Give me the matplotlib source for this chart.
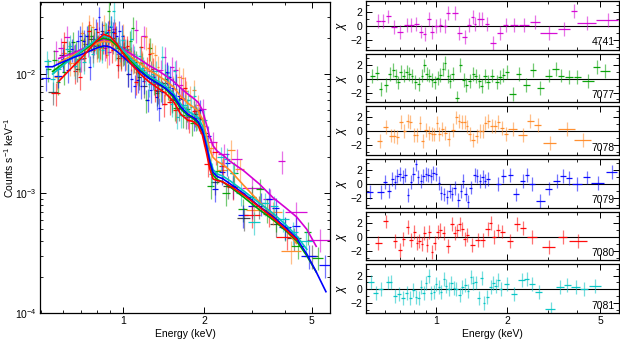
import numpy as np
import matplotlib
matplotlib.use("Agg")
import matplotlib.pyplot as plt
from matplotlib.ticker import FixedLocator, FixedFormatter, NullFormatter

plt.rcParams["font.family"] = ["Liberation Sans", "DejaVu Sans"]
plt.rcParams["mathtext.fontset"] = "custom"
plt.rcParams["mathtext.rm"] = "Liberation Sans"
plt.rcParams["mathtext.it"] = "Liberation Sans:italic"
plt.rcParams["font.size"] = 7.5

# fluxes below are in units of 1e-3 counts s^-1 keV^-1
frac_err = 0.22

# --- model curves (shared energy grid) ---
model_e = [0.52, 0.55, 0.58, 0.62, 0.66, 0.70, 0.75, 0.80, 0.85, 0.90, 0.95, 1.0, 1.08, 1.16, 1.25,
           1.34, 1.44, 1.54, 1.64, 1.74, 1.82, 1.9, 1.97, 2.04, 2.1, 2.16, 2.24, 2.34, 2.5, 2.8,
           3.2, 3.6, 4.0, 4.4, 4.8, 5.2, 5.65]
nan = np.nan
model_4741 = [nan, nan, 13.5, 14.3, 15.0, 16.0, 17.2, 18.5, 19.5, 19.0, 17.8, 16.3, 14.6, 13.2, 11.8,
              10.8, 9.7, 8.7, 7.6, 6.8, 6.3, 5.8, 5.0, 3.8, 2.95, 2.5, 2.25, 2.1, 1.85, 1.55,
              1.2, 0.92, 0.76, 0.635, 0.5, 0.36, nan]
model_7077 = [nan, 10.5, 11.5, 12.8, 14.0, 15.3, 17.0, 18.8, 20.0, 19.3, 17.3, 15.2, 12.6, 10.8, 9.3,
              8.4, 7.5, 6.4, 5.1, 4.5, 4.25, 3.9, 3.3, 2.4, 1.75, 1.42, 1.3, 1.25, 1.13, 0.93,
              0.73, 0.6, 0.49, 0.4, 0.3, 0.22, nan]
model_7078 = [nan, nan, 12.5, 13.5, 14.5, 15.5, 16.8, 18.0, 18.8, 18.5, 17.2, 15.8, 13.8, 12.2, 10.8,
              9.8, 8.8, 7.8, 6.5, 5.7, 5.3, 4.9, 4.2, 3.1, 2.3, 2.0, 1.85, 1.75, 1.55, 1.17,
              0.85, 0.65, 0.5, 0.38, nan, nan, nan]
model_7079 = [11.5, 11.5, 12.2, 13.0, 13.8, 14.5, 15.5, 16.5, 17.2, 16.8, 15.5, 14.0, 12.0, 10.5, 9.2,
              8.4, 7.6, 6.6, 5.3, 4.6, 4.35, 4.0, 3.4, 2.5, 1.85, 1.5, 1.38, 1.33, 1.2, 1.0,
              0.78, 0.64, 0.52, 0.42, 0.31, 0.22, 0.15]
model_7080 = [nan, nan, 8.7, 10.2, 11.8, 13.5, 16.0, 19.0, 21.5, 20.5, 18.0, 15.0, 12.0, 10.0, 8.6,
              7.7, 6.9, 5.9, 4.6, 4.1, 4.0, 3.7, 3.1, 2.2, 1.6, 1.32, 1.28, 1.25, 1.15, 0.97,
              0.77, 0.62, 0.5, 0.41, nan, nan, nan]
model_7081 = [nan, 10.0, 11.0, 12.5, 14.0, 15.5, 17.5, 19.5, 20.8, 20.2, 18.2, 16.0, 13.2, 11.2, 9.7,
              8.8, 7.9, 6.9, 5.6, 4.9, 4.6, 4.3, 3.7, 2.7, 1.95, 1.58, 1.45, 1.4, 1.27, 1.05,
              0.83, 0.68, 0.55, 0.44, 0.34, nan, nan]

# --- spectra: energy, half bin width, flux, residual chi ---
e_4741 = [0.564, 0.591, 0.623, 0.661, 0.70, 0.745, 0.78, 0.82, 0.86, 0.89, 0.927, 0.96, 1.0, 1.04,
          1.09, 1.12, 1.2, 1.25, 1.32, 1.38, 1.43, 1.46, 1.52, 1.57, 1.64, 1.75, 1.87, 1.98, 2.15,
          2.37, 2.64, 3.02, 3.5, 3.87, 4.39, 5.39]
de_4741 = [0.013, 0.014, 0.016, 0.019, 0.02, 0.02, 0.018, 0.02, 0.018, 0.016, 0.018, 0.018, 0.02, 0.02,
           0.02, 0.02, 0.03, 0.03, 0.03, 0.025, 0.02, 0.02, 0.025, 0.03, 0.035, 0.05, 0.05, 0.05, 0.08,
           0.11, 0.12, 0.25, 0.2, 0.12, 0.42, 0.57]
f_4741 = [15.5, 16.5, 20.5, 14.4, 13.4, 17.7, 18.6, 20.2, 16.5, 15.2, 23.6, 14.6, 16.5, 16.1, 14.6,
          23.4, 20.7, 9.7, 8.2, 10.8, 13.9, 10.2, 11.4, 10.8, 8.1, 4.4, 4.9, 5.1, 2.67, 2.14, 1.93,
          1.1, 0.89, 1.85, 0.70, 0.41]
chi_4741 = [0.68, 0.78, 1.37, -0.2, -0.9, 0.15, 0.15, 0.3, -0.8, -1.15, 1.0, -0.9, 0.05, 0.2, 0.05,
            1.85, 1.85, -1.0, -1.55, 0.2, 1.35, 0.3, 1.0, 1.0, 0.3, -2.4, -1.05, 0.15, 0.2, 0.2, 0.55,
            -1.0, -0.4, 2.15, 0.45, 0.9]

e_7077 = [0.531, 0.558, 0.577, 0.607, 0.631, 0.653, 0.670, 0.688, 0.704, 0.723, 0.745, 0.765, 0.785,
          0.812, 0.839, 0.868, 0.888, 0.908, 0.933, 0.958, 0.984, 1.013, 1.040, 1.065, 1.090, 1.119,
          1.145, 1.176, 1.224, 1.265, 1.307, 1.342, 1.387, 1.434, 1.473, 1.522, 1.557, 1.610, 1.665,
          1.732, 1.808, 1.869, 1.932, 1.997, 2.113, 2.242, 2.419, 2.585, 2.780, 3.019, 3.226, 3.412,
          3.683, 4.000, 4.446, 4.831, 5.265]
de_7077 = [0.013, 0.012, 0.01, 0.012, 0.011, 0.01, 0.009, 0.009, 0.009, 0.01, 0.01, 0.01, 0.01, 0.013,
           0.013, 0.012, 0.01, 0.011, 0.012, 0.012, 0.013, 0.014, 0.013, 0.013, 0.013, 0.014, 0.014,
           0.017, 0.02, 0.02, 0.02, 0.02, 0.022, 0.022, 0.02, 0.022, 0.02, 0.026, 0.03, 0.035, 0.035,
           0.03, 0.035, 0.04, 0.07, 0.06, 0.08, 0.08, 0.1, 0.1, 0.1, 0.1, 0.15, 0.15, 0.25, 0.15, 0.25]
f_7077 = [11.0, 13.0, 8.6, 10.4, 15.5, 18.5, 15.5, 13.3, 19.2, 17.9, 21.0, 20.7, 19.7, 17.4, 16.8,
          22.1, 33.7, 22.6, 20.2, 16.6, 14.2, 15.3, 15.8, 18.9, 24.5, 12.7, 10.2, 12.4, 6.0, 16.4,
          8.5, 6.9, 7.5, 9.0, 7.8, 6.2, 5.2, 6.1, 4.55, 5.1, 3.9, 4.3, 4.2, 3.7, 1.15, 1.54, 1.0,
          1.49, 0.74, 0.94, 1.08, 0.73, 0.61, 0.51, 0.36, 0.47, 0.29]
chi_7077 = [0.35, 0.8, -1.5, -0.9, 0.7, 1.2, 0.35, -0.55, 0.9, 0.45, 0.9, 0.7, 0.35, -0.45, -0.8, 0.45,
            1.9, 0.7, 0.45, -0.15, -0.55, 0.15, 0.55, 1.4, 2.25, 0.35, -0.4, 0.7, -2.8, 2.0, -0.15,
            -0.95, -0.3, 0.7, 0.35, -0.35, -1.0, 0.35, -0.45, 0.45, -0.45, 0.2, 0.55, 0.9, -2.15, 0.7,
            -0.9, 1.25, -1.3, 0.45, 1.4, 0.45, 0.2, 0.2, -0.35, 1.65, 1.05]

e_7078 = [0.572, 0.607, 0.637, 0.659, 0.681, 0.704, 0.728, 0.752, 0.773, 0.804, 0.825, 0.850, 0.873,
          0.903, 0.933, 0.958, 0.980, 1.003, 1.030, 1.058, 1.090, 1.126, 1.176, 1.216, 1.248, 1.282,
          1.320, 1.351, 1.387, 1.434, 1.483, 1.532, 1.573, 1.615, 1.665, 1.720, 1.778, 1.838, 1.900,
          1.984, 2.113, 2.333, 2.517, 2.707, 3.050, 3.597, 4.204]
de_7078 = [0.016, 0.015, 0.012, 0.011, 0.011, 0.012, 0.012, 0.011, 0.011, 0.012, 0.011, 0.012, 0.012,
           0.015, 0.013, 0.012, 0.011, 0.012, 0.014, 0.015, 0.016, 0.02, 0.025, 0.018, 0.016, 0.018,
           0.018, 0.016, 0.02, 0.025, 0.025, 0.022, 0.02, 0.022, 0.025, 0.028, 0.03, 0.03, 0.035,
           0.045, 0.09, 0.1, 0.08, 0.1, 0.2, 0.3, 0.35]
f_7078 = [9.5, 15.1, 12.3, 12.4, 12.5, 22.2, 16.2, 25.5, 24.7, 16.2, 16.4, 25.5, 14.4, 19.5, 16.6,
          15.6, 14.9, 21.3, 13.8, 15.5, 12.8, 10.4, 12.7, 20.4, 16.5, 14.9, 14.4, 11.5, 8.6, 7.0,
          7.3, 7.9, 7.5, 9.4, 9.2, 7.2, 6.5, 7.3, 5.5, 3.7, 2.4, 1.58, 2.3, 1.6, 0.73, 0.70, 0.33]
chi_7078 = [-1.35, 0.6, -0.6, -0.7, -0.85, 1.35, 0.0, 1.55, 1.35, -0.5, -0.55, 1.2, -1.35, 0.25, -0.3,
            -0.4, -0.45, 1.2, -0.4, 0.35, -0.3, -1.1, 0.25, 2.0, 1.55, 1.35, 1.35, 0.7, -0.4, -1.2,
            -0.7, 0.0, 0.0, 1.2, 1.45, 0.8, 0.7, 1.3, 0.5, -0.4, 0.35, -0.5, 1.55, 0.95, -1.65, 0.35,
            -1.3]

e_7079 = [0.518, 0.577, 0.603, 0.627, 0.648, 0.666, 0.681, 0.697, 0.716, 0.735, 0.755, 0.778, 0.796,
          0.817, 0.836, 0.859, 0.879, 0.903, 0.924, 0.948, 0.971, 0.997, 1.023, 1.047, 1.075, 1.108,
          1.138, 1.168, 1.196, 1.236, 1.269, 1.299, 1.334, 1.365, 1.402, 1.458, 1.492, 1.532, 1.573,
          1.610, 1.665, 1.838, 1.931, 2.064, 2.191, 2.333, 2.435, 2.561, 2.780, 3.019, 3.259, 3.481,
          3.681, 4.000, 4.387, 4.877, 5.607]
de_7079 = [0.02, 0.02, 0.01, 0.01, 0.009, 0.008, 0.008, 0.009, 0.009, 0.01, 0.01, 0.01, 0.01, 0.01,
           0.01, 0.011, 0.01, 0.011, 0.011, 0.012, 0.012, 0.012, 0.012, 0.012, 0.014, 0.015, 0.015,
           0.014, 0.015, 0.018, 0.015, 0.015, 0.017, 0.016, 0.02, 0.02, 0.018, 0.02, 0.02, 0.02, 0.03,
           0.04, 0.05, 0.05, 0.06, 0.06, 0.05, 0.07, 0.12, 0.1, 0.1, 0.1, 0.1, 0.2, 0.15, 0.3, 0.3]
f_7079 = [9.2, 9.7, 13.3, 10.7, 16.2, 14.7, 19.0, 20.8, 19.0, 20.8, 11.5, 17.4, 23.7, 30.0, 21.8,
          18.9, 22.6, 24.9, 22.5, 20.7, 23.0, 21.0, 13.7, 10.0, 9.1, 8.0, 8.9, 7.9, 8.7, 6.1, 7.3,
          9.4, 6.4, 5.2, 7.1, 10.3, 9.5, 7.6, 8.2, 6.5, 6.2, 4.3, 5.0, 3.0, 1.09, 1.5, 1.8, 1.16,
          0.66, 0.78, 0.83, 0.90, 0.75, 0.52, 0.53, 0.30, 0.25]
chi_7079 = [-1.15, -1.15, 0.25, -1.0, 0.75, 0.25, 1.15, 1.4, 1.0, 1.25, -1.6, 0.35, 1.4, 2.9, 1.0, 0.4,
            1.1, 1.5, 1.25, 1.1, 1.6, 1.5, 0.1, -1.25, -1.5, -1.9, -1.0, -1.4, -0.6, -2.25, -1.0, 0.4,
            -1.4, -2.65, -0.5, 1.25, 1.1, 0.5, 1.0, 0.4, 0.75, 0.0, 1.1, 1.25, -1.5, 0.5, 1.35, 0.0,
            -2.45, -0.65, 0.4, 1.1, 0.85, 0.0, 0.95, 0.1, 1.7]

e_7080 = [0.564, 0.607, 0.666, 0.697, 0.721, 0.752, 0.778, 0.804, 0.825, 0.845, 0.868, 0.888, 0.912,
          0.933, 0.958, 0.984, 1.013, 1.040, 1.072, 1.119, 1.164, 1.196, 1.228, 1.256, 1.290, 1.320,
          1.356, 1.424, 1.497, 1.573, 1.653, 1.703, 1.761, 1.838, 1.912, 2.064, 2.205, 2.341, 2.560,
          3.019, 3.469, 4.040]
de_7080 = [0.02, 0.015, 0.012, 0.012, 0.012, 0.013, 0.012, 0.011, 0.01, 0.01, 0.011, 0.01, 0.011,
           0.011, 0.012, 0.013, 0.014, 0.014, 0.017, 0.02, 0.02, 0.016, 0.015, 0.015, 0.016, 0.016,
           0.02, 0.03, 0.035, 0.035, 0.035, 0.025, 0.03, 0.035, 0.04, 0.06, 0.06, 0.07, 0.12, 0.2,
           0.15, 0.35]
f_7080 = [6.9, 18.6, 10.6, 9.4, 13.6, 22.9, 15.8, 22.4, 17.1, 18.8, 17.5, 23.4, 15.9, 22.2, 11.9,
          13.5, 16.9, 17.2, 13.7, 8.6, 16.9, 10.7, 11.3, 14.8, 11.1, 7.4, 8.1, 5.6, 5.85, 5.0, 6.3,
          7.7, 4.1, 4.9, 4.3, 1.77, 2.2, 1.7, 1.13, 0.66, 0.67, 0.43]
chi_7080 = [-0.85, 2.2, -0.6, -1.9, -0.35, 1.35, -0.5, 0.65, -0.85, -0.6, -1.0, 0.5, -1.15, 0.65, -2.2,
            -0.85, 0.65, 1.0, 0.5, -1.3, 1.85, 0.5, 0.9, 1.85, 1.1, -0.35, 0.3, -1.2, -0.5, -0.5, 1.1,
            1.95, 0.0, 0.9, 0.75, -0.6, 1.85, 1.2, 0.0, -1.45, 0.0, -0.6]

e_7081 = [0.526, 0.550, 0.577, 0.623, 0.638, 0.666, 0.693, 0.721, 0.747, 0.773, 0.796, 0.817, 0.839,
          0.859, 0.882, 0.903, 0.927, 0.948, 0.974, 0.997, 1.023, 1.047, 1.075, 1.101, 1.126, 1.157,
          1.184, 1.216, 1.256, 1.290, 1.329, 1.365, 1.402, 1.434, 1.473, 1.517, 1.557, 1.594, 1.648,
          1.703, 1.749, 1.790, 1.838, 1.881, 1.997, 2.147, 2.317, 2.435, 2.560, 2.734, 3.070, 3.368,
          3.622, 3.934, 4.272, 4.764]
de_7081 = [0.015, 0.012, 0.014, 0.012, 0.01, 0.012, 0.013, 0.013, 0.012, 0.012, 0.01, 0.01, 0.01, 0.01,
           0.011, 0.01, 0.012, 0.011, 0.012, 0.012, 0.012, 0.012, 0.013, 0.012, 0.013, 0.015, 0.013,
           0.016, 0.02, 0.018, 0.02, 0.018, 0.018, 0.016, 0.02, 0.022, 0.02, 0.02, 0.027, 0.025, 0.022,
           0.022, 0.024, 0.03, 0.05, 0.07, 0.08, 0.06, 0.07, 0.1, 0.15, 0.12, 0.12, 0.18, 0.18, 0.28]
f_7081 = [12.8, 9.0, 11.0, 16.2, 17.3, 11.6, 13.4, 12.7, 15.7, 14.6, 18.9, 16.2, 15.9, 22.3, 18.5,
          25.1, 33.8, 16.7, 16.1, 19.3, 16.2, 13.3, 19.5, 14.2, 12.0, 14.2, 11.3, 10.4, 8.2, 10.0,
          10.5, 8.2, 14.0, 10.0, 9.7, 5.6, 10.5, 4.4, 4.5, 5.5, 6.0, 5.3, 6.5, 4.35, 4.1, 1.46, 2.0,
          1.95, 1.48, 1.01, 0.57, 0.83, 0.78, 0.61, 0.47, 0.40]
chi_7081 = [1.1, -0.5, 0.0, 1.0, 1.1, -1.0, -0.6, -1.3, -0.5, -1.2, -0.1, -1.05, -1.3, 0.3, -0.5, 0.9,
            1.95, -0.5, -0.35, 0.75, 0.3, -0.35, 1.45, 0.5, 0.0, 0.9, 0.15, 0.0, -0.85, 0.3, 0.65,
            -0.2, 1.85, 0.9, 1.0, -1.3, 1.6, -1.95, -1.05, 0.3, 0.9, 0.5, 1.35, 0.0, 0.8, -0.6, 1.35,
            1.45, 0.8, -0.35, -2.8, 0.4, 0.65, 0.3, 0.0, 0.5]

# extra black spectrum (left panel only)
e_blk = [0.553, 0.60, 0.64, 0.68, 0.72, 0.76, 0.80, 0.84, 0.88, 0.92, 0.96, 1.0, 1.05, 1.1, 1.15,
         1.2, 1.27, 1.35, 1.43, 1.52, 1.62, 1.72, 1.85, 2.0, 2.2, 2.45, 2.8, 3.2, 3.7, 4.3, 5.0]
de_blk = [0.025, 0.02, 0.015, 0.015, 0.015, 0.015, 0.015, 0.015, 0.015, 0.015, 0.015, 0.02, 0.02, 0.02,
          0.02, 0.025, 0.03, 0.03, 0.03, 0.04, 0.04, 0.04, 0.05, 0.06, 0.08, 0.1, 0.15, 0.15, 0.2,
          0.25, 0.3]
f_blk = [7.0, 14.5, 15.0, 11.0, 16.5, 19.5, 17.0, 23.0, 21.0, 19.0, 13.5, 15.0, 10.0, 13.0, 9.5, 8.0,
         10.5, 7.2, 8.4, 6.0, 5.2, 4.4, 4.6, 3.2, 1.25, 1.15, 0.62, 0.78, 0.55, 0.42, 0.30]

obs_ids = ["4741", "7077", "7078", "7079", "7080", "7081"]
colors = {"4741": "#d400d4", "7077": "#00a000", "7078": "#ff8a26", "7079": "#0000ff",
          "7080": "#ff0000", "7081": "#00c4c4"}
spectra = {
    "4741": (e_4741, de_4741, f_4741, chi_4741, model_4741),
    "7077": (e_7077, de_7077, f_7077, chi_7077, model_7077),
    "7078": (e_7078, de_7078, f_7078, chi_7078, model_7078),
    "7079": (e_7079, de_7079, f_7079, chi_7079, model_7079),
    "7080": (e_7080, de_7080, f_7080, chi_7080, model_7080),
    "7081": (e_7081, de_7081, f_7081, chi_7081, model_7081),
}


def cross(ax, x, y, xerr, yerr, color, z=2, a=1.0):
    ax.errorbar(x, y, yerr=yerr, fmt="none", ecolor=color, elinewidth=0.9, alpha=0.55 * a, zorder=z)
    ax.errorbar(x, y, xerr=xerr, fmt="none", ecolor=color, elinewidth=0.9, alpha=0.95 * a, zorder=z)


def style_ticks(ax):
    ax.tick_params(which="both", direction="in", top=True, right=True, labelsize=7.5, pad=2.5)
    ax.tick_params(which="major", length=4, width=0.7)
    ax.tick_params(which="minor", length=2, width=0.6)
    for s in ax.spines.values():
        s.set_linewidth(0.9)


fig = plt.figure(figsize=(6.2, 3.41), dpi=100)

# ---- left: spectra ----
ax = fig.add_axes([40 / 620, 28.3 / 341, 290 / 620, 310.7 / 341])
ax.set_xscale("log")
ax.set_yscale("log")

f_b = np.array(f_blk) * 1e-3
cross(ax, e_blk, f_b, de_blk, frac_err * f_b, "black", z=1, a=0.75)
for oid in obs_ids:
    e, de, f, chi, mod = spectra[oid]
    fa = np.array(f) * 1e-3
    cross(ax, e, fa, de, frac_err * fa, colors[oid])
for oid in ["4741", "7078", "7077", "7081", "7079", "7080"]:
    mod = np.array(spectra[oid][4]) * 1e-3
    ax.plot(model_e, mod, color=colors[oid], lw=1.2, zorder=5)

ax.set_xlim(0.494, 5.85)
ax.set_ylim(1e-4, 0.0401)
ax.xaxis.set_major_locator(FixedLocator([1, 2, 5]))
ax.xaxis.set_major_formatter(FixedFormatter(["1", "2", "5"]))
ax.xaxis.set_minor_locator(FixedLocator([0.5, 0.6, 0.7, 0.8, 0.9, 3, 4]))
ax.xaxis.set_minor_formatter(NullFormatter())
ax.yaxis.set_major_locator(FixedLocator([1e-4, 1e-3, 1e-2]))
ax.yaxis.set_major_formatter(FixedFormatter([r"10$^{-4}$", r"10$^{-3}$", r"10$^{-2}$"]))
ax.yaxis.set_minor_locator(FixedLocator([k * 1e-4 for k in range(2, 10)] +
                                        [k * 1e-3 for k in range(2, 10)] +
                                        [k * 1e-2 for k in range(2, 4)]))
ax.yaxis.set_minor_formatter(NullFormatter())
style_ticks(ax)
ax.set_xlabel("Energy (keV)", labelpad=2)
ax.set_ylabel(r"Counts s$^{-1}$ keV$^{-1}$")
ax.yaxis.set_label_coords(-0.082, 0.5)

# ---- right: residuals ----
gs = fig.add_gridspec(6, 1, left=366 / 620, right=618.7 / 620, top=1 - 1 / 341,
                      bottom=1 - 313 / 341, hspace=0.085)
for i, oid in enumerate(obs_ids):
    r = fig.add_subplot(gs[i])
    e, de, f, chi, mod = spectra[oid]
    r.set_xscale("log")
    r.axhline(0, color="black", lw=0.8, zorder=1)
    cross(r, e, chi, de, 1.0, colors[oid])
    r.set_xlim(0.5, 6.0)
    r.set_ylim(-3.4, 3.6)
    r.xaxis.set_major_locator(FixedLocator([1, 2, 5]))
    r.xaxis.set_minor_locator(FixedLocator([0.5, 0.6, 0.7, 0.8, 0.9, 3, 4, 6]))
    r.xaxis.set_minor_formatter(NullFormatter())
    if i == len(obs_ids) - 1:
        r.xaxis.set_major_formatter(FixedFormatter(["1", "2", "5"]))
        r.set_xlabel("Energy (keV)", labelpad=2)
    else:
        r.xaxis.set_major_formatter(NullFormatter())
    r.yaxis.set_major_locator(FixedLocator([-2, 0, 2]))
    r.yaxis.set_major_formatter(FixedFormatter(["\u22122", "0", "2"]))
    r.yaxis.set_minor_locator(FixedLocator([-3, -1, 1, 3]))
    style_ticks(r)
    r.set_ylabel(r"$\chi$", labelpad=1, fontsize=8.5)
    r.text(0.985, 0.05, oid, transform=r.transAxes, ha="right", va="bottom", fontsize=7.5)

fig.savefig("out.png", dpi=100)
